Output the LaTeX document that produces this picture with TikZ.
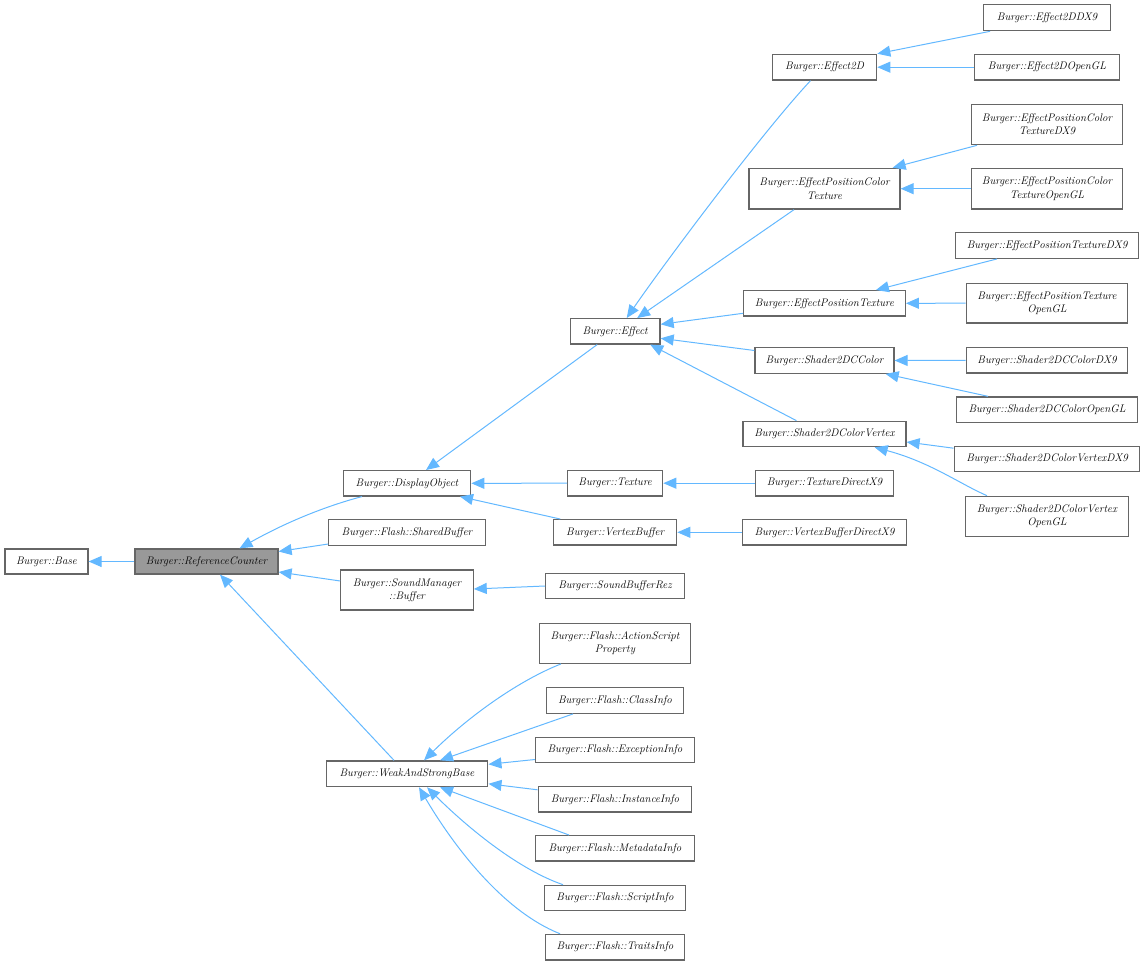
\documentclass[tikz,border=0pt]{standalone}
\usetikzlibrary{arrows.meta,calc}
\definecolor{edgeblue}{HTML}{63B8FF}
\definecolor{boxline}{HTML}{666666}
\definecolor{boxfill}{HTML}{999999}
\tikzset{
  box/.style={draw=boxline, line width=1.25pt, fill=white, inner sep=0pt, align=center,
    font=\fontsize{11}{13.3}\selectfont\itshape},
  cur/.style={box, fill=boxfill},
  edge/.style={draw=edgeblue, line width=1pt, -{Triangle[length=13pt,width=11pt]}}
}
\newcommand{\bx}[6][box]{\node[#1, minimum width=#5pt, minimum height=#6pt] (#2) at (#3,#4)}
\begin{document}
\begin{tikzpicture}[x=1pt,y=-1pt]
\useasboundingbox (0,0) rectangle (1145,965);
% nodes
\bx{base}{46.5}{561.5}{83}{25} {Burger::Base};
\bx[cur]{refc}{206.5}{561.5}{143}{25} {Burger::ReferenceCounter};
\bx{disp}{407}{483.3}{127.4}{25.3} {Burger::DisplayObject};
\bx{shared}{407}{532.5}{156.3}{25.6} {Burger::Flash::SharedBuffer};
\bx{sndbuf}{407}{590}{132.3}{40} {Burger::SoundManager\\::Buffer};
\bx{wsb}{407}{773.8}{161.7}{25.7} {Burger::WeakAndStrongBase};
\bx{effect}{615.2}{331.3}{89.7}{25.3} {Burger::Effect};
\bx{texture}{615.2}{483.2}{95}{25.7} {Burger::Texture};
\bx{vbuf}{615.2}{532.3}{123}{25.3} {Burger::VertexBuffer};
\bx{sbr}{615}{586}{138.6}{25.4} {Burger::SoundBufferRez};
\bx{asp}{615}{643.3}{151.4}{40} {Burger::Flash::ActionScript\\Property};
\bx{classinfo}{615}{700.5}{136.3}{25.6} {Burger::Flash::ClassInfo};
\bx{exc}{615}{750}{159}{25.7} {Burger::Flash::ExceptionInfo};
\bx{inst}{615}{799.3}{153.7}{25.3} {Burger::Flash::InstanceInfo};
\bx{meta}{615}{848.3}{159}{25.3} {Burger::Flash::MetadataInfo};
\bx{script}{615}{897.8}{140.3}{25} {Burger::Flash::ScriptInfo};
\bx{traits}{615}{947.2}{139.4}{25.7} {Burger::Flash::TraitsInfo};
\bx{effect2d}{824.5}{67.2}{104.4}{25.7} {Burger::Effect2D};
\bx{epct}{824.5}{188.7}{151}{40.7} {Burger::EffectPositionColor\\Texture};
\bx{ept}{824.5}{303.3}{161.6}{25.3} {Burger::EffectPositionTexture};
\bx{s2dcc}{824.5}{360.5}{139}{25.6} {Burger::Shader2DCColor};
\bx{s2dcv}{824.5}{434}{163}{25.4} {Burger::Shader2DColorVertex};
\bx{texdx9}{824.5}{483.2}{137.6}{25.7} {Burger::TextureDirectX9};
\bx{vbufdx9}{824.5}{532.3}{164.4}{25.3} {Burger::VertexBufferDirectX9};
\bx{e2ddx9}{1047}{17.7}{127.4}{26} {Burger::Effect2DDX9};
\bx{e2dogl}{1047}{67.2}{145.7}{25.7} {Burger::Effect2DOpenGL};
\bx{epctdx9}{1047}{124.5}{151}{40.4} {Burger::EffectPositionColor\\TextureDX9};
\bx{epctogl}{1047}{188.7}{151}{40.7} {Burger::EffectPositionColor\\TextureOpenGL};
\bx{eptdx9}{1047}{245.3}{182.7}{26} {Burger::EffectPositionTextureDX9};
\bx{eptogl}{1047}{303.2}{161.7}{39.7} {Burger::EffectPositionTexture\\OpenGL};
\bx{s2dccdx9}{1047}{360.3}{161.7}{25.3} {Burger::Shader2DCColorDX9};
\bx{s2dccogl}{1047}{409.8}{180.3}{25.7} {Burger::Shader2DCColorOpenGL};
\bx{s2dcvdx9}{1047}{459.2}{185.7}{25} {Burger::Shader2DColorVertexDX9};
\bx{s2dcvogl}{1047}{516.5}{163.3}{40.4} {Burger::Shader2DColorVertex\\OpenGL};
% edges
\draw[edge] (refc.west) -- (base.east);
\draw[edge] ($(disp.south)+(-45,0)$) .. controls (330,505) and (290,520) .. ($(refc.north)+(33,0)$);
\draw[edge] ($(shared.west)+(0,11.5)$) -- ($(refc.east)+(0,-10)$);
\draw[edge] ($(sndbuf.west)+(0,-9)$) -- ($(refc.east)+(0,10.5)$);
\draw[edge] ($(wsb.north)+(-13,0)$) -- ($(refc.south)+(13.5,0)$);
\draw[edge] ($(effect.south)+(-18,0)$) -- ($(disp.north)+(19,0)$);
\draw[edge] (texture.west) -- (disp.east);
\draw[edge] ($(vbuf.north)+(-55,0)$) -- ($(disp.south)+(53,0)$);
\draw[edge] ($(effect2d.south)+(-14,0)$) .. controls (760.7,134) and (661,268) .. ($(effect.north)+(11.5,0)$);
\draw[edge] ($(epct.south)+(-30.5,0)$) -- ($(effect.north)+(22,0)$);
\draw[edge] ($(ept.west)+(0,10)$) -- ($(effect.east)+(0,-7)$);
\draw[edge] ($(s2dcc.west)+(0,-10)$) -- ($(effect.east)+(0,7)$);
\draw[edge] ($(s2dcv.north)+(-28,0)$) -- ($(effect.south)+(35,0)$);
\draw[edge] ($(e2ddx9.south)+(-57,0)$) -- (effect2d.north east);
\draw[edge] (e2dogl.west) -- (effect2d.east);
\draw[edge] ($(epctdx9.south)+(-70,0)$) -- ($(epct.north east)+(-8,0)$);
\draw[edge] (epctogl.west) -- (epct.east);
\draw[edge] ($(eptdx9.south)+(-50,0)$) -- ($(ept.north east)+(-30,0)$);
\draw[edge] (eptogl.west) -- (ept.east);
\draw[edge] (s2dccdx9.west) -- (s2dcc.east);
\draw[edge] ($(s2dccogl.north)+(-59,0)$) -- ($(s2dcc.south east)+(-9,0)$);
\draw[edge] ($(s2dcvdx9.west)+(0,-11)$) -- ($(s2dcv.east)+(0,8)$);
\draw[edge] ($(s2dcvogl.north)+(-60,0)$) .. controls (960,484) and (930,462) .. ($(s2dcv.south east)+(-32,0)$);
\draw[edge] (texdx9.west) -- (texture.east);
\draw[edge] (vbufdx9.west) -- (vbuf.east);
\draw[edge] (sbr.west) -- ($(sndbuf.east)+(0,-1)$);
\draw[edge] ($(asp.south)+(-54,0)$) .. controls (520,680) and (470,715) .. ($(wsb.north)+(17,0)$);
\draw[edge] ($(classinfo.south)+(-42,0)$) -- ($(wsb.north)+(33,0)$);
\draw[edge] ($(exc.west)+(0,9.5)$) -- ($(wsb.east)+(0,-9.5)$);
\draw[edge] ($(inst.west)+(0,-9.5)$) -- ($(wsb.east)+(0,10)$);
\draw[edge] ($(meta.north)+(-46,0)$) -- ($(wsb.south)+(33,0)$);
\draw[edge] ($(script.north)+(-52,0)$) .. controls (520,870) and (470,830) .. ($(wsb.south)+(20,0)$);
\draw[edge] ($(traits.north)+(-55,0)$) .. controls (500,910) and (450,840) .. ($(wsb.south)+(12,0)$);
\end{tikzpicture}
\end{document}
